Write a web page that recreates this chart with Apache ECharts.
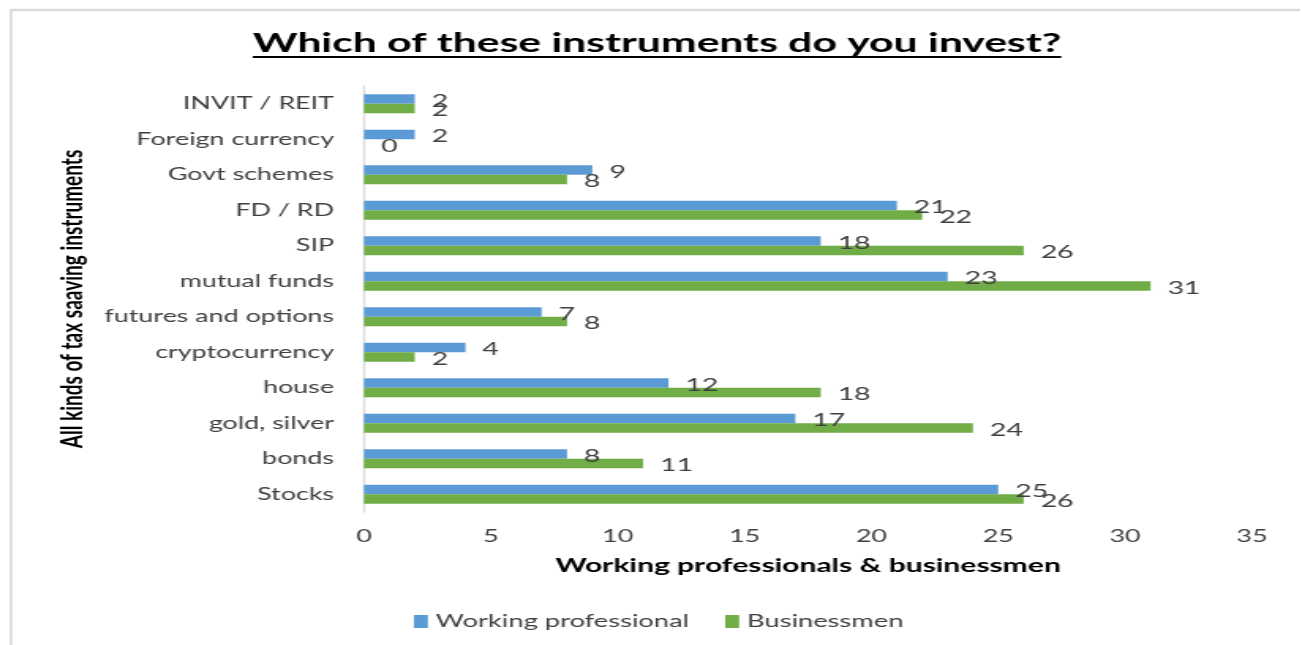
<!DOCTYPE html>
<html>
<head>
<meta charset="utf-8">
<script src="https://cdn.jsdelivr.net/npm/echarts@6/dist/echarts.min.js"></script>
<style>
  html, body { margin: 0; padding: 0; background: #fff; overflow: hidden; }
  #wrap { width: 1301px; height: 645px; overflow: hidden; }
  #chart { height: 645px; transform-origin: 0 0; }
</style>
</head>
<body>
<div id="wrap"><div id="chart"></div></div>
<script>
// Investment instruments, listed top to bottom
const categories = [
  'INVIT / REIT', 'Foreign currency', 'Govt schemes', 'FD / RD', 'SIP',
  'mutual funds', 'futures and options', 'cryptocurrency', 'house',
  'gold, silver', 'bonds', 'Stocks'
];
const workingProfessional = [2, 2, 9, 21, 18, 23, 7, 4, 12, 17, 8, 25];
const businessmen = [2, 0, 8, 22, 26, 31, 8, 2, 18, 24, 11, 26];
const xTicks = [0, 5, 10, 15, 20, 25, 30, 35];

// The chart is laid out in a narrower box and widened horizontally,
// which gives the wide lettering of the original slide.
const SX = 1.58;
const W = 1301, H = 645;
const w = W / SX;
const X = px => px / SX;   // page x -> layout x

const el = document.getElementById('chart');
el.style.width = w + 'px';
el.style.transform = 'scaleX(' + SX + ')';

const FONT = 'Lato, "Open Sans", sans-serif';
const titleText = 'Which of these instruments do you invest?';
const titleFont = 'bold 27px Lato, "Open Sans", sans-serif';
const titleX = X(657), titleY = 43;

// measure the title so the underline spans exactly the text
const ctx = document.createElement('canvas').getContext('2d');
ctx.font = titleFont;
const titleW = ctx.measureText(titleText).width;

const chart = echarts.init(el, null, { width: w, height: H });

const labelStyle = {
  show: true,
  position: 'right',
  distance: X(17),
  fontFamily: FONT,
  fontSize: 18,
  color: '#404040',
  offset: [0, 2]
};

chart.setOption({
  backgroundColor: '#ffffff',
  animation: false,
  graphic: [
    { type: 'line', shape: { x1: X(10), y1: 10, x2: w, y2: 10 }, style: { stroke: '#d9d9d9', lineWidth: 2.5 } },
    { type: 'line', shape: { x1: X(11), y1: 10, x2: X(11), y2: H }, style: { stroke: '#d9d9d9', lineWidth: 1.6 } },
    {
      type: 'text', x: titleX, y: titleY,
      style: {
        text: titleText, font: titleFont, fill: '#000',
        textAlign: 'center', textVerticalAlign: 'middle'
      }
    },
    {
      type: 'line',
      shape: { x1: titleX - titleW / 2, y1: 57, x2: titleX + titleW / 2, y2: 57 },
      style: { stroke: '#000', lineWidth: 2 }
    }
  ],
  legend: {
    bottom: 10,
    left: X(406),
    itemWidth: X(14),
    itemHeight: 13,
    itemGap: X(36),
    icon: 'rect',
    textStyle: { fontFamily: FONT, fontSize: 17.3, color: '#404040' },
    data: ['Working professional', 'Businessmen']
  },
  grid: { left: X(364), right: X(49), top: 86, bottom: 133 },
  xAxis: {
    type: 'value',
    min: 0,
    max: 35,
    interval: 5,
    name: 'Working professionals & businessmen',
    nameLocation: 'middle',
    nameGap: 44,
    nameTextStyle: { fontFamily: FONT, fontWeight: 'bold', fontSize: 19, color: '#000' },
    axisLine: { show: false },
    axisTick: { show: false },
    splitLine: { show: false },
    axisLabel: {
      margin: 16,
      fontFamily: FONT,
      fontSize: 17,
      color: '#404040',
      formatter: v => (xTicks.includes(v) ? String(v) : '')
    }
  },
  yAxis: {
    type: 'category',
    inverse: true,
    data: categories,
    name: 'All kinds of tax saaving instruments',
    nameLocation: 'middle',
    nameRotate: 90,
    nameGap: X(273),
    nameTextStyle: { fontFamily: FONT, fontWeight: 'bold', fontSize: 19, color: '#000' },
    axisLine: { show: true, lineStyle: { color: '#d9d9d9', width: 1.3 } },
    axisTick: { show: false },
    axisLabel: {
      margin: X(30),
      fontFamily: FONT,
      fontSize: 17,
      color: '#404040'
    }
  },
  series: [
    {
      name: 'Working professional',
      type: 'bar',
      data: workingProfessional,
      barGap: '0%',
      barCategoryGap: '46%',
      itemStyle: { color: '#5b9bd5' },
      label: labelStyle
    },
    {
      name: 'Businessmen',
      type: 'bar',
      data: businessmen,
      barGap: '0%',
      barCategoryGap: '46%',
      itemStyle: { color: '#70ad47' },
      label: labelStyle
    }
  ]
});
</script>
</body>
</html>
